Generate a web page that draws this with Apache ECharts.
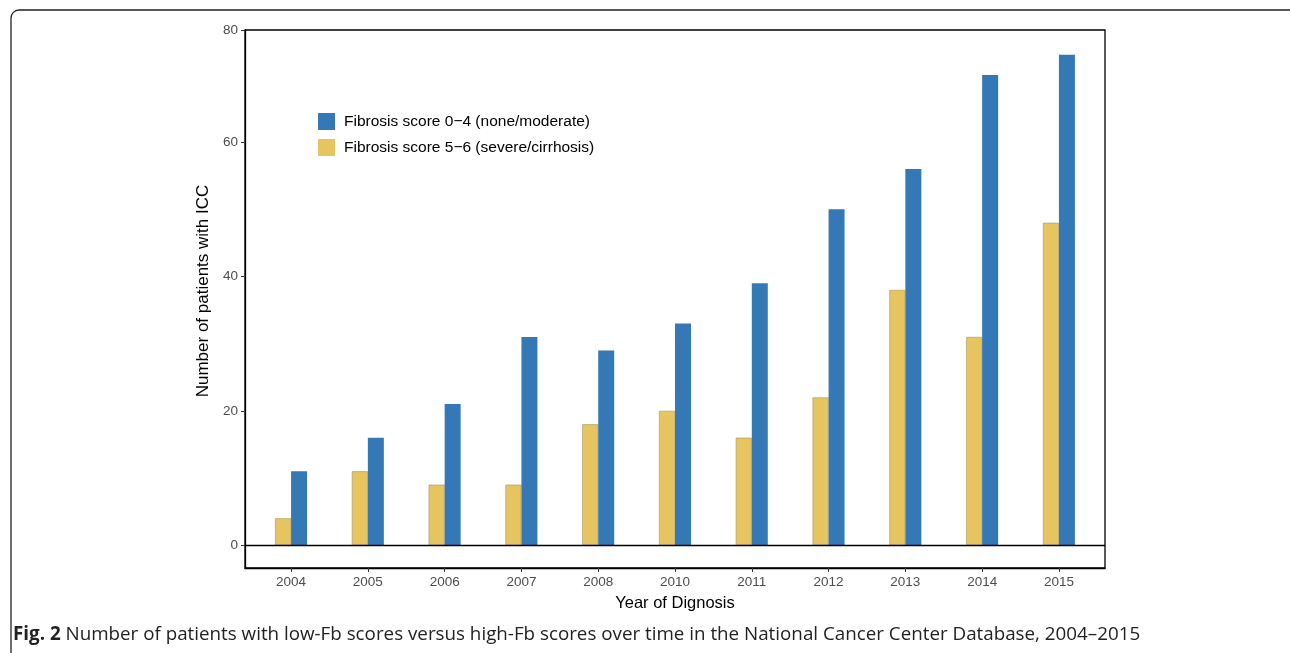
<!DOCTYPE html>
<html>
<head>
<meta charset="utf-8">
<script src="https://cdn.jsdelivr.net/npm/echarts@6/dist/echarts.min.js"></script>
<style>html,body{margin:0;padding:0;background:#fff;}#c{width:1290px;height:653px;}</style>
</head>
<body>
<div id="c"></div>
<script>
const years = ['2004','2005','2006','2007','2008','2010','2011','2012','2013','2014','2015'];
const lowFb = [11, 16, 21, 31, 29, 33, 39, 50, 56, 70, 73];
const highFb = [4, 11, 9, 9, 18, 20, 16, 22, 38, 31, 48];
const lowName = 'Fibrosis score 0\u22124 (none/moderate)';
const highName = 'Fibrosis score 5\u22126 (severe/cirrhosis)';
const yTickValues = [0, 20, 40, 60, 76.7];
const yTickLabels = ['0', '20', '40', '60', '80'];
const yMin = -3.4, yMax = 76.7;
const caption = 'Number of patients with low-Fb scores versus high-Fb scores over time in the National Cancer Center Database, 2004\u20132015';

const idx = years.map((_, i) => i);
const chart = echarts.init(document.getElementById('c'), null, {renderer: 'canvas'});
const FF = 'Liberation Sans, Arial, sans-serif';
const tickFont = {color: '#4d4d4d', fontSize: 13.5, fontFamily: FF};
chart.setOption({
  animation: false,
  backgroundColor: '#fff',
  grid: {left: 245, right: 185, top: 30, bottom: 85, show: true, borderColor: '#000', borderWidth: 1.3, backgroundColor: 'transparent'},
  legend: {
    data: [lowName, highName], orient: 'vertical', left: 313, top: 108,
    itemWidth: 17, itemHeight: 17, itemGap: 9, icon: 'rect',
    itemStyle: {borderWidth: 0},
    textStyle: {fontSize: 15.5, color: '#000', fontFamily: FF, padding: [0,0,0,4]}
  },
  xAxis: {
    type: 'value', min: -0.6, max: idx.length - 1 + 0.6,
    axisLine: {show: true, onZero: false, lineStyle: {color: '#000', width: 1.3}},
    axisTick: {show: true, length: 4, customValues: idx, lineStyle: {color: '#333'}},
    axisLabel: Object.assign({customValues: idx, margin: 7, formatter: v => years[Math.round(v)]}, tickFont),
    splitLine: {show: false},
    name: 'Year of Dignosis', nameLocation: 'middle', nameGap: 27,
    nameTextStyle: {fontSize: 16.5, color: '#000', fontFamily: FF}
  },
  yAxis: {
    type: 'value', min: yMin, max: yMax,
    axisLine: {show: true, onZero: false, lineStyle: {color: '#000', width: 1.3}},
    axisTick: {show: true, length: 4, customValues: yTickValues, lineStyle: {color: '#333'}},
    axisLabel: Object.assign({customValues: yTickValues, margin: 7, formatter: v => yTickLabels[yTickValues.indexOf(v)]}, tickFont),
    splitLine: {show: false},
    name: 'Number of patients with ICC', nameLocation: 'middle', nameGap: 32,
    nameTextStyle: {fontSize: 17, color: '#000', fontFamily: FF, padding: [0, 0, 0, 16]}
  },
  series: [
    {
      name: highName, type: 'bar', barWidth: 16, barGap: '0%',
      data: highFb.map((v, i) => [i, v]),
      itemStyle: {color: '#E6C45F', borderColor: '#a8975c', borderWidth: 0.6},
      markLine: {silent: true, symbol: 'none', label: {show: false}, lineStyle: {color: '#000', width: 1.3, type: 'solid'}, data: [{yAxis: 0}]}
    },
    {
      name: lowName, type: 'bar', barWidth: 16, barGap: '0%',
      data: lowFb.map((v, i) => [i, v]),
      itemStyle: {color: '#3479B5'}
    }
  ],
  graphic: [
    {type: 'rect', left: 8.5, top: 7.5, shape: {width: 1296, height: 660, r: 8}, style: {fill: 'none', stroke: '#222', lineWidth: 1.3}, silent: true},
    {type: 'text', left: 13, top: 625, style: {
      text: '{b|Fig. 2} ' + caption,
      rich: {b: {fontWeight: 'bold', fontSize: 18.8, fontFamily: 'Open Sans, sans-serif', fill: '#222'}},
      fontSize: 18.8, fontFamily: 'Open Sans, sans-serif', fill: '#222'
    }}
  ]
});
</script>
</body>
</html>
